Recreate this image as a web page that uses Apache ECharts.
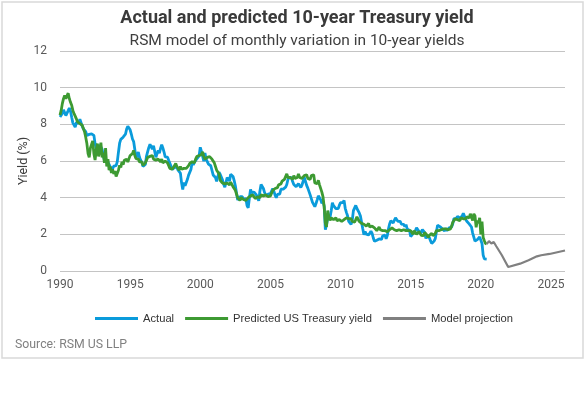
<!DOCTYPE html>
<html>
<head>
<meta charset="utf-8">
<script src="https://cdn.jsdelivr.net/npm/echarts@6/dist/echarts.min.js"></script>
<style>
html,body{margin:0;padding:0;background:#fff;}
#chart{width:585px;height:395px;}
</style>
</head>
<body>
<div id="chart"></div>
<script>
const startYear = 1990;
const xTicks = [1990, 1995, 2000, 2005, 2010, 2015, 2020, 2025];
const yTicks = [0, 2, 4, 6, 8, 10, 12];

// Monthly actual 10-year yield, Jan 1990 - Jun 2020
const actualMonthly = [
  8.40,8.47,8.59,8.79,8.76,8.48,8.47,8.75,8.89,8.72,8.39,8.08,
  8.09,7.85,8.11,8.04,8.07,8.28,8.27,7.90,7.75,7.65,7.60,7.40,
  7.30,7.45,7.55,7.48,7.45,7.40,6.95,6.70,6.55,6.62,6.87,6.80,
  6.65,6.30,6.05,6.00,6.05,5.96,5.81,5.68,5.45,5.40,5.72,5.77,
  5.75,5.97,6.48,6.97,7.18,7.10,7.30,7.24,7.46,7.74,7.90,7.81,
  7.70,7.47,7.20,7.06,6.63,6.17,6.28,6.49,6.20,6.04,5.93,5.71,
  5.65,5.81,6.27,6.51,6.74,6.91,6.87,6.64,6.83,6.53,6.20,6.30,
  6.58,6.42,6.69,6.89,6.71,6.49,6.22,6.30,6.21,6.03,5.88,5.81,
  5.54,5.57,5.65,5.64,5.65,5.50,5.46,5.34,4.81,4.45,4.83,4.65,
  4.72,5.00,5.23,5.18,5.54,5.90,5.79,5.94,5.92,6.11,6.03,6.28,
  6.75,6.52,6.26,5.99,6.44,6.10,6.05,5.83,5.80,5.74,5.72,5.24,
  5.16,5.10,4.89,5.14,5.39,5.28,5.24,4.97,4.73,4.57,4.65,5.09,
  5.04,4.91,5.28,5.21,5.16,4.93,4.65,4.26,3.87,3.94,4.05,4.03,
  4.05,3.90,3.81,3.96,3.57,3.45,3.98,4.45,4.27,4.29,4.30,4.27,
  4.15,4.08,3.83,4.35,4.72,4.73,4.50,4.28,4.13,4.10,4.19,4.23,
  4.22,4.17,4.50,4.34,4.14,4.00,4.18,4.26,4.20,4.46,4.54,4.47,
  4.42,4.57,4.72,4.99,5.11,5.11,5.09,4.88,4.72,4.73,4.60,4.56,
  4.76,4.72,4.56,4.69,4.75,5.10,5.00,4.67,4.52,4.53,4.15,4.10,
  3.74,3.74,3.51,3.68,3.88,4.10,4.01,3.89,3.69,3.81,3.53,2.25,
  2.52,2.87,2.82,2.93,3.29,3.72,3.56,3.59,3.40,3.39,3.40,3.59,
  3.73,3.69,3.73,3.85,3.42,3.20,3.01,2.70,2.65,2.54,2.76,3.29,
  3.39,3.58,3.41,3.46,3.17,3.00,3.00,2.30,1.98,2.15,2.01,1.98,
  1.97,1.97,2.17,2.05,1.80,1.62,1.53,1.68,1.72,1.75,1.65,1.72,
  1.91,1.98,1.96,1.76,1.93,2.30,2.58,2.74,2.81,2.62,2.72,2.90,
  2.86,2.71,2.72,2.71,2.56,2.60,2.54,2.42,2.53,2.30,2.33,2.21,
  1.88,1.98,2.04,1.94,2.20,2.36,2.32,2.17,2.17,2.07,2.26,2.24,
  2.09,1.78,1.89,1.81,1.81,1.64,1.50,1.56,1.63,1.76,2.14,2.49,
  2.43,2.42,2.48,2.30,2.30,2.19,2.32,2.21,2.20,2.36,2.35,2.40,
  2.58,2.86,2.84,2.87,2.98,2.91,2.89,2.89,3.00,3.15,3.12,2.83,
  2.71,2.68,2.57,2.53,2.40,2.07,2.06,1.63,1.70,1.71,1.81,1.86,
  1.76,1.50,0.87,0.66,0.67,0.65
];

// Monthly predicted yield, Jan 1990 - Jun 2020
const predictedMonthly = [
  8.50,8.76,9.13,9.40,9.58,9.40,9.55,9.70,9.40,9.20,9.04,8.76,
  8.58,8.45,8.30,8.13,8.20,8.04,8.10,7.95,7.85,7.60,7.30,6.95,
  6.40,6.20,6.70,6.90,7.10,6.40,6.05,6.60,6.95,6.25,6.55,7.00,
  6.20,6.45,5.90,6.70,5.70,6.10,5.50,5.70,5.35,5.55,5.30,5.45,
  5.15,5.25,5.50,5.76,5.65,5.95,5.80,6.04,5.95,6.10,5.95,6.13,
  6.30,6.20,6.40,6.58,6.30,6.13,6.04,6.10,5.95,5.86,5.95,5.76,
  5.80,5.90,6.05,6.20,6.10,6.25,6.15,6.30,6.10,6.20,6.05,6.10,
  6.10,6.00,5.95,6.10,5.90,5.85,6.00,6.05,5.90,5.75,5.60,5.50,
  5.55,5.60,5.75,5.87,5.70,5.60,5.50,5.70,5.55,5.65,5.60,5.70,
  5.60,5.55,5.75,5.87,5.80,5.96,6.00,5.90,6.10,6.24,6.20,6.30,
  6.40,6.35,6.50,6.24,6.10,6.05,6.20,6.10,6.24,6.30,6.10,6.00,
  5.90,5.70,5.50,5.40,5.30,4.95,5.00,4.80,4.70,4.75,4.85,4.80,
  4.80,4.70,4.85,4.80,4.60,4.50,4.40,4.20,4.00,3.95,3.85,4.00,
  4.00,3.90,3.95,3.85,3.90,4.00,4.05,4.10,4.20,4.15,4.05,3.95,
  3.95,4.05,4.10,4.00,4.15,4.20,4.10,4.20,4.15,4.10,4.05,4.10,
  4.10,4.20,4.40,4.30,4.50,4.60,4.55,4.70,4.80,4.75,4.90,4.95,
  5.00,5.15,5.30,5.10,5.05,5.10,5.20,5.00,5.20,5.05,5.00,5.10,
  5.30,5.10,5.15,5.05,5.10,5.20,5.15,5.25,5.05,5.10,5.00,5.20,
  5.30,5.25,4.80,4.90,4.76,4.95,4.70,4.60,4.30,4.04,3.50,2.60,
  2.40,3.30,2.95,2.76,2.90,2.95,2.80,2.85,2.90,2.75,2.85,2.80,
  2.85,2.70,2.60,2.80,2.75,2.90,2.80,2.85,2.95,2.85,2.70,2.75,
  2.67,2.80,2.95,2.85,2.70,2.67,2.60,2.50,2.55,2.60,2.45,2.50,
  2.60,2.40,2.30,2.45,2.50,2.35,2.25,2.20,2.30,2.40,2.25,2.35,
  2.20,2.10,2.20,2.30,2.15,2.20,2.25,2.20,2.35,2.40,2.25,2.30,
  2.20,2.30,2.25,2.30,2.20,2.30,2.25,2.15,2.20,2.25,2.20,2.10,
  2.20,2.10,2.00,2.20,2.15,2.00,2.10,2.15,2.05,1.95,2.05,1.93,
  2.10,2.00,1.95,1.83,1.95,2.00,2.05,1.93,1.90,2.05,2.20,2.15,
  2.20,2.10,2.25,2.15,2.30,2.25,2.30,2.20,2.25,2.35,2.30,2.45,
  2.66,2.70,2.84,2.75,2.80,2.70,2.75,2.90,2.97,2.85,2.80,2.84,
  2.95,3.03,2.90,3.12,3.20,2.75,3.12,3.00,2.38,2.75,2.60,2.90,
  2.00,2.70,1.83,1.65,1.50,1.47
];

// Model projection
const projectionYears  = [2020.42,2020.58,2020.75,2020.92,2021.1,2021.5,2021.95,2022.8,2023.4,2024.0,2024.3,2024.9,2026.0];
const projectionValues = [1.47,1.63,1.50,1.58,1.35,0.86,0.22,0.40,0.59,0.80,0.86,0.93,1.12];

const seriesNames = ['Actual', 'Predicted US Treasury yield', 'Model projection'];

const toPairs = arr => arr.map((v, i) => [startYear + i / 12, v]);

const chart = echarts.init(document.getElementById('chart'), null, {renderer: 'canvas'});
const mainFont = "Roboto, 'Noto Sans', sans-serif";
chart.setOption({
  animation: false,
  backgroundColor: '#fff',
  title: [
    {text: 'Actual and predicted 10-year Treasury yield', left: 292, top: 4, textAlign: 'center',
     textStyle: {fontFamily: mainFont, fontWeight: 'bold', fontSize: 18, color: '#3a3a3a'}},
    {text: 'RSM model of monthly variation in 10-year yields', left: 292, top: 28, textAlign: 'center',
     textStyle: {fontFamily: mainFont, fontWeight: 'normal', fontSize: 15.5, color: '#3f3f3f'}},
    {text: 'Source: RSM US LLP', left: 10, top: 334,
     textStyle: {fontFamily: mainFont, fontWeight: 'normal', fontSize: 12.3, color: '#808080'}}
  ],
  graphic: [{type: 'rect', shape: {x: 2, y: 2, width: 581, height: 356},
             style: {fill: 'none', stroke: '#d9d9d9', lineWidth: 1.5}, silent: true, z: -1}],
  legend: {
    left: 90, top: 308, itemWidth: 43, itemHeight: 3, itemGap: 11, icon: 'rect',
    textStyle: {fontFamily: "'Liberation Sans', Arial, sans-serif", fontSize: 11.2, color: '#333'},
    data: seriesNames
  },
  grid: {left: 60, right: 20, top: 51, bottom: 124},
  xAxis: {
    type: 'value', min: xTicks[0], max: 2026, interval: 5,
    axisLine: {show: false}, axisTick: {show: false}, splitLine: {show: false},
    axisLabel: {fontFamily: mainFont, fontSize: 12, color: '#595959', margin: 8,
      formatter: v => (xTicks.indexOf(v) >= 0 ? String(v) : '')}
  },
  yAxis: {
    type: 'value', min: yTicks[0], max: yTicks[yTicks.length - 1], interval: 2,
    name: 'Yield (%)', nameLocation: 'middle', nameGap: 30, nameMoveOverlap: false,
    nameTextStyle: {fontFamily: mainFont, fontSize: 12.5, color: '#404040'},
    axisLine: {show: false}, axisTick: {show: false},
    splitLine: {lineStyle: {color: '#c4c4c4', width: 1}},
    axisLabel: {fontFamily: mainFont, fontSize: 12, color: '#595959', margin: 13}
  },
  series: [
    {name: seriesNames[0], type: 'line', data: toPairs(actualMonthly), showSymbol: false, symbol: 'none',
     lineStyle: {color: '#0A9BDB', width: 2.8}, itemStyle: {color: '#0A9BDB'}},
    {name: seriesNames[1], type: 'line', data: toPairs(predictedMonthly), showSymbol: false, symbol: 'none',
     lineStyle: {color: '#3D9A32', width: 2.8}, itemStyle: {color: '#3D9A32'}},
    {name: seriesNames[2], type: 'line', data: projectionYears.map((y, i) => [y, projectionValues[i]]),
     showSymbol: false, symbol: 'none',
     lineStyle: {color: '#808080', width: 2.2}, itemStyle: {color: '#808080'}}
  ]
});
</script>
</body>
</html>
